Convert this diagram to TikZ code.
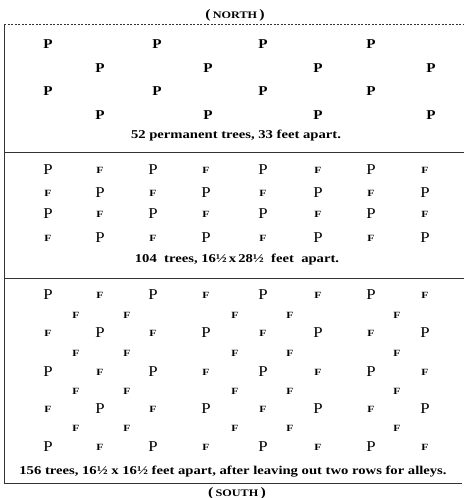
\documentclass[tikz,border=0pt]{standalone}
\usepackage{fontspec}
\setmainfont{Liberation Serif}
\newfontfamily\widefont[FakeStretch=1.22]{Liberation Serif}
\newfontfamily\pfont[FakeStretch=1.12]{Liberation Serif}
\begin{document}
\begin{tikzpicture}[x=1pt,y=-1pt,
  pone/.style={font=\fontsize{13.5}{14}\pfont\bfseries, inner sep=0pt},
  pbig/.style={font=\fontsize{15}{15}\pfont, inner sep=0pt},
  fsm/.style={font=\fontsize{9.5}{10}\widefont\bfseries, inner sep=0pt},
  captxt/.style={font=\fontsize{12}{12}\widefont\bfseries, inner sep=0pt},
  compass/.style={font=\fontsize{13}{13}\widefont\bfseries, inner sep=0pt},
  framerule/.style={line width=0.8pt, black!80}]
\useasboundingbox (0,0) rectangle (464,498);
% frame
\coordinate (tl) at (4,24.5);
\coordinate (tr) at (464,24.5);
\coordinate (bl) at (4,483);
\coordinate (br) at (462,483);
\coordinate (l1) at (4,152);
\coordinate (r1) at (464,152);
\coordinate (l2) at (4,278);
\coordinate (r2) at (464,278);
\draw[framerule, dash pattern=on 2pt off 1.5pt] (tl) -- (tr);
\draw[framerule] (tl) -- (bl) -- (br);
\draw[framerule] (l1) -- (r1);
\draw[framerule] (l2) -- (r2);
\node[compass] (north) at (235,15) {(\,{\fontsize{10}{10}\selectfont NORTH}\,)};
\node[compass] (south) at (237,493) {(\,{\fontsize{10}{10}\selectfont SOUTH}\,)};
% section 1
\foreach \x [count=\i] in {48,157,263,371} {
  \node[pone] (a\i) at (\x,44) {P};
  \node[pone] (c\i) at (\x,91) {P};
}
\foreach \x [count=\i] in {100,208,318,431} {
  \node[pone] (b\i) at (\x,68) {P};
  \node[pone] (d\i) at (\x,115) {P};
}
\node[captxt] (cap1) at (236,136) {52 permanent trees, 33 feet apart.};
% section 2
\foreach \y [count=\r] in {170,193,214,238} {
  \foreach \x [count=\c] in {48,100,153,206,263,318,371,425} {
    \pgfmathtruncatemacro\k{mod(\c+\r,2)}
    \ifnum\k=0
      \node[pbig] (m\r-\c) at (\x,\y) {P};
    \else
      \node[fsm] (m\r-\c) at (\x,\y) {F};
    \fi
  }
}
\node[captxt] (cap2) at (237,260) {104\ \ trees,\ 16½\,x\,28½\ \ feet\ \ apart.};
% section 3
\foreach \y [count=\r] in {295,333,372,409,447} {
  \foreach \x [count=\c] in {48,100,153,206,263,318,371,425} {
    \pgfmathtruncatemacro\k{mod(\c+\r,2)}
    \ifnum\k=0
      \node[pbig] (n\r-\c) at (\x,\y) {P};
    \else
      \node[fsm] (n\r-\c) at (\x,\y) {F};
    \fi
  }
}
\foreach \y [count=\r] in {315,353,391,428} {
  \foreach \x [count=\c] in {76,127,235,290,397} {
    \node[fsm] (f\r-\c) at (\x,\y) {F};
  }
}
\node[captxt] (cap3) at (233,472) {156 trees, 16½ x 16½ feet apart, after leaving out two rows for alleys.};
\end{tikzpicture}
\end{document}
